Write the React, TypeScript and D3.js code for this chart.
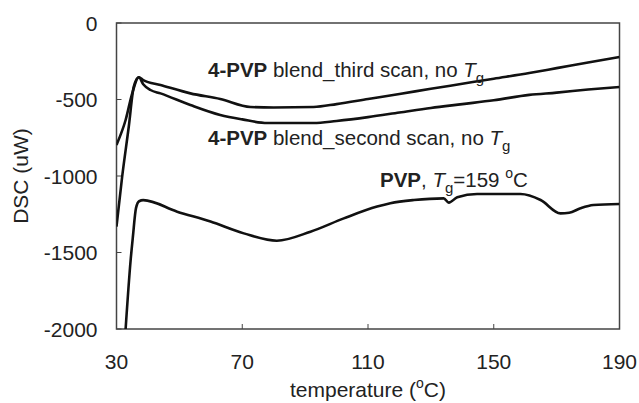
import React from "react";
import * as d3 from "d3";

// ---- data ----
const thirdScanT = [30, 32.9, 35, 37.1, 38.5, 44, 53.5, 63, 72.6, 80, 92.7, 100, 110, 120, 130, 140, 150, 161.3, 170, 180, 190];
const thirdScanDSC = [-797, -634, -460, -355, -373, -405, -460, -497, -549, -552, -549, -530, -497, -464, -430, -397, -364, -327, -295, -258, -222];

const secondScanT = [30, 31.8, 33.9, 35.5, 37.1, 38.5, 40.8, 44, 53.5, 63, 70, 78, 92.7, 100, 110, 120, 130, 140, 150, 161.3, 170, 180, 190];
const secondScanDSC = [-1331, -1004, -678, -416, -355, -400, -438, -460, -536, -601, -630, -654, -654, -640, -615, -585, -555, -530, -505, -470, -455, -435, -418];

const pvpT = [32.9, 34.5, 35.2, 36.2, 37.2, 38.5, 49.3, 59.9, 70.5, 81, 91.7, 102.3, 112.9, 117.1, 124.6, 134.1, 135.7, 138.4, 144.7, 158.5, 164.9, 171.2, 174, 177.6, 181.7, 190];
const pvpDSC = [-2000, -1549, -1400, -1210, -1165, -1158, -1233, -1298, -1375, -1423, -1364, -1277, -1200, -1178, -1157, -1146, -1174, -1139, -1118, -1118, -1157, -1244, -1240, -1211, -1190, -1183];

const xTicks = [30, 70, 110, 150, 190];
const yTicks = [0, -500, -1000, -1500, -2000];

const xLabel = "temperature (";
const yLabel = "DSC (uW)";

export default function App() {
  const W = 639, H = 403;
  const left = 116.5, right = 619.5, top = 23, bottom = 329;
  const x = d3.scaleLinear().domain([30, 190]).range([left, right]);
  const y = d3.scaleLinear().domain([-2000, 0]).range([bottom, top]);
  const line = d3
    .line<[number, number]>()
    .x((d) => x(d[0]))
    .y((d) => y(d[1]))
    .curve(d3.curveMonotoneX);
  const zip = (a: number[], b: number[]) => a.map((v, i) => [v, b[i]] as [number, number]);
  const series = [zip(thirdScanT, thirdScanDSC), zip(secondScanT, secondScanDSC), zip(pvpT, pvpDSC)];

  const font = "'Liberation Sans', Arial, Helvetica, sans-serif";
  const txt = "#222";
  const axisColor = "#444";

  return (
    <svg width={W} height={H} style={{ position: "absolute", left: 0, top: 0 }} fontFamily={font}>
      <rect x={0} y={0} width={W} height={H} fill="#fff" />
      <defs>
        <clipPath id="plot">
          <rect x={left} y={top} width={right - left} height={bottom - top} />
        </clipPath>
      </defs>
      {/* frame */}
      <rect x={left} y={top} width={right - left} height={bottom - top} fill="none" stroke={axisColor} strokeWidth={1.5} />
      {/* y ticks */}
      {yTicks.map((t) => (
        <g key={"y" + t}>
          <line x1={left} x2={left + 5} y1={y(t)} y2={y(t)} stroke={axisColor} strokeWidth={1} />
          <text x={97.5} y={y(t)} dy="0.36em" textAnchor="end" fontSize={21} fill={txt}>
            {t}
          </text>
        </g>
      ))}
      {/* x ticks */}
      {xTicks.map((t) => (
        <g key={"x" + t}>
          <line x1={x(t)} x2={x(t)} y1={bottom} y2={bottom - 5} stroke={axisColor} strokeWidth={1} />
          <text x={x(t)} y={369} textAnchor="middle" fontSize={21} fill={txt}>
            {t}
          </text>
        </g>
      ))}
      {/* axis titles */}
      <text x={(left + right) / 2} y={397} textAnchor="middle" fontSize={21} fill={txt}>
        {xLabel}
        <tspan fontSize={14} dy={-9}>o</tspan>
        <tspan dy={9}>C)</tspan>
      </text>
      <text transform={`translate(28,${(top + bottom) / 2}) rotate(-90)`} textAnchor="middle" fontSize={21} fill={txt}>
        {yLabel}
      </text>
      {/* curves */}
      <g clipPath="url(#plot)">
        {series.map((s, i) => (
          <path key={i} d={line(s) || ""} fill="none" stroke="#111" strokeWidth={2.6} strokeLinejoin="round" />
        ))}
      </g>
      {/* annotations */}
      <text x={208} y={77} fontSize={20.5} fill={txt}>
        <tspan fontWeight="bold">4-PVP</tspan>
        <tspan> blend_third scan, no </tspan>
        <tspan fontStyle="italic">T</tspan>
        <tspan fontSize={15} dy={6}>g</tspan>
      </text>
      <text x={208} y={145} fontSize={20.5} fill={txt}>
        <tspan fontWeight="bold">4-PVP</tspan>
        <tspan> blend_second scan, no </tspan>
        <tspan fontStyle="italic">T</tspan>
        <tspan fontSize={15} dy={6}>g</tspan>
      </text>
      <text x={380} y={187} fontSize={20.5} fill={txt}>
        <tspan fontWeight="bold">PVP</tspan>
        <tspan>, </tspan>
        <tspan fontStyle="italic">T</tspan>
        <tspan fontSize={15} dy={6}>g</tspan>
        <tspan dy={-6}>=159 </tspan>
        <tspan fontSize={14} dy={-9}>o</tspan>
        <tspan dy={9}>C</tspan>
      </text>
    </svg>
  );
}
